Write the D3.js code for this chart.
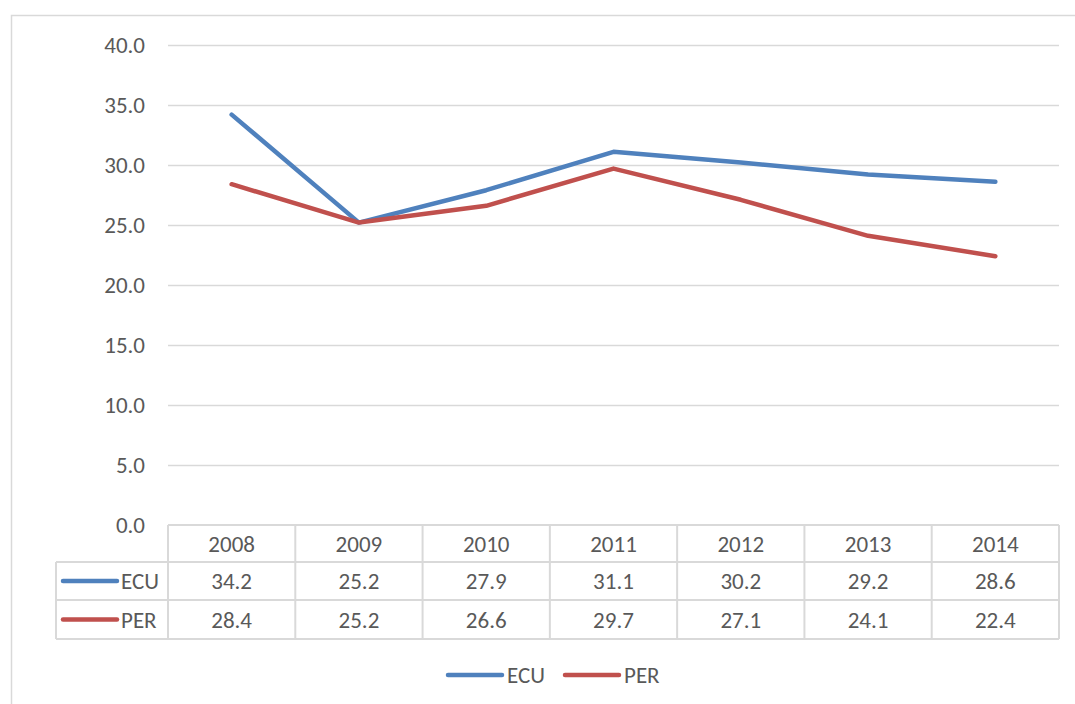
<!DOCTYPE html>
<html><head><meta charset="utf-8">
<script src="https://cdn.jsdelivr.net/npm/d3@7"></script>
<style>body{margin:0;background:#fff}svg{display:block}text{font-family:Carlito,Calibri,"Open Sans",Lato,sans-serif;fill:#595959}</style>
</head><body><svg id="c" width="1075" height="704"></svg>
<script>
const years = ["2008","2009","2010","2011","2012","2013","2014"];
const ecu = [34.2,25.2,27.9,31.1,30.2,29.2,28.6];
const per = [28.4,25.2,26.6,29.7,27.1,24.1,22.4];
const yTicks = [0,5,10,15,20,25,30,35,40];
const seriesNames = ["ECU","PER"];
const seriesColors = ["#4F81BD","#C0504D"];
const series = [ecu, per];

const FS = 23;
const svg = d3.select("#c");
const L = 168, R = 1059, T = 45, B = 525;
const x = d3.scaleBand().domain(years).range([L, R]);
const y = d3.scaleLinear().domain([0, 40]).range([B, T]);
const grid = "#D9D9D9";

// outer border
svg.append("rect").attr("x",11.5).attr("y",15.5).attr("width",1080).attr("height",700)
  .attr("fill","none").attr("stroke",grid).attr("stroke-width",1.5);

// gridlines
svg.append("g").selectAll("line").data(yTicks.filter(d=>d>0)).join("line")
  .attr("x1",L).attr("x2",R).attr("y1",d=>Math.round(y(d))+0.5).attr("y2",d=>Math.round(y(d))+0.5)
  .attr("stroke",grid).attr("stroke-width",1.3);

// y labels
svg.append("g").selectAll("text").data(yTicks).join("text")
  .attr("x",145).attr("y",d=>y(d)+7.5).attr("text-anchor","end").attr("font-size",FS)
  .text(d=>d.toFixed(1));

// lines
const line = d3.line().x((d,i)=>x(years[i])+x.bandwidth()/2).y(d=>y(d));
series.forEach((s,k)=>{
  svg.append("path").datum(s).attr("d",line).attr("fill","none")
    .attr("stroke",seriesColors[k]).attr("stroke-width",4.5).attr("stroke-linejoin","round").attr("stroke-linecap","round");
});

// data table
const rowTop = [525, 562, 600, 639];
const tableLeft = 56;
const tg = svg.append("g");
function ln(x1,y1,x2,y2){tg.append("line").attr("x1",x1).attr("y1",y1).attr("x2",x2).attr("y2",y2).attr("stroke",grid).attr("stroke-width",2);}
ln(L, rowTop[0], R, rowTop[0]);
ln(tableLeft, rowTop[1], R, rowTop[1]);
ln(tableLeft, rowTop[2], R, rowTop[2]);
ln(tableLeft, rowTop[3], R, rowTop[3]);
ln(tableLeft, rowTop[1], tableLeft, rowTop[3]);
years.forEach(yr=>ln(x(yr), rowTop[0], x(yr), rowTop[3]));
ln(R, rowTop[0], R, rowTop[3]);

tg.selectAll("text.h").data(years).join("text").attr("class","h")
  .attr("x",d=>x(d)+x.bandwidth()/2).attr("y",(rowTop[0]+rowTop[1])/2+8)
  .attr("text-anchor","middle").attr("font-size",FS).text(d=>d);

series.forEach((s,k)=>{
  const cy = (rowTop[k+1]+rowTop[k+2])/2;
  tg.append("line").attr("x1",63).attr("x2",117).attr("y1",cy).attr("y2",cy)
    .attr("stroke",seriesColors[k]).attr("stroke-width",4.5).attr("stroke-linecap","round");
  tg.append("text").attr("x",121).attr("y",cy+8).attr("font-size",FS).text(seriesNames[k]);
  tg.selectAll("text.v"+k).data(s).join("text").attr("class","v"+k)
    .attr("x",(d,i)=>x(years[i])+x.bandwidth()/2).attr("y",cy+8)
    .attr("text-anchor","middle").attr("font-size",FS).text(d=>d.toFixed(1));
});

// bottom legend
const legX = [448, 565];
seriesNames.forEach((n,k)=>{
  svg.append("line").attr("x1",legX[k]).attr("x2",legX[k]+54).attr("y1",675).attr("y2",675)
    .attr("stroke",seriesColors[k]).attr("stroke-width",4.5).attr("stroke-linecap","round");
  svg.append("text").attr("x",legX[k]+59).attr("y",683).attr("font-size",FS).text(n);
});
</script></body></html>
